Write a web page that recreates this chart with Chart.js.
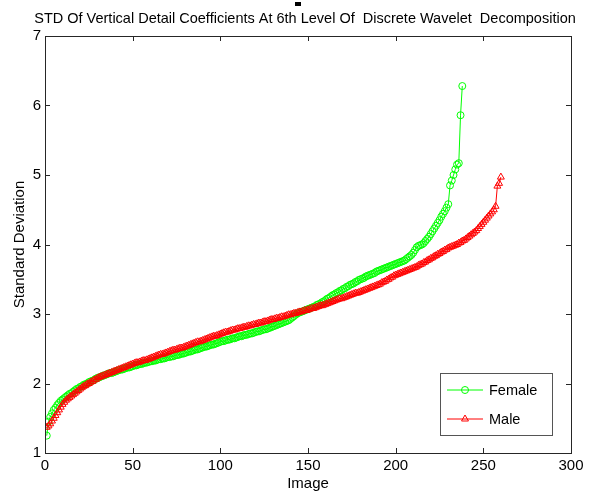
<!DOCTYPE html>
<html>
<head>
<meta charset="utf-8">
<script src="https://cdn.jsdelivr.net/npm/chart.js@4/dist/chart.umd.min.js"></script>
<style>
  html, body { margin: 0; padding: 0; background: #fff; }
  #chart { display: block; }
</style>
</head>
<body>
<canvas id="chart" width="590" height="495"></canvas>
<script>
// sorted STD values per image, one array per group
const femaleStd = [
  1.25, 1.45, 1.52, 1.57, 1.62, 1.65, 1.69, 1.72, 1.75, 1.77,
  1.79, 1.81, 1.83, 1.85, 1.86, 1.88, 1.90, 1.92, 1.93, 1.95,
  1.96, 1.98, 1.99, 2.00, 2.02, 2.03, 2.04, 2.05, 2.07, 2.08,
  2.09, 2.10, 2.11, 2.12, 2.13, 2.14, 2.15, 2.15, 2.16, 2.17,
  2.18, 2.19, 2.20, 2.20, 2.21, 2.22, 2.23, 2.23, 2.24, 2.25,
  2.26, 2.26, 2.27, 2.28, 2.28, 2.29, 2.30, 2.30, 2.31, 2.32,
  2.32, 2.33, 2.33, 2.34, 2.35, 2.35, 2.36, 2.36, 2.37, 2.38,
  2.38, 2.39, 2.39, 2.40, 2.41, 2.41, 2.42, 2.43, 2.43, 2.44,
  2.45, 2.46, 2.46, 2.47, 2.48, 2.49, 2.49, 2.50, 2.51, 2.52,
  2.53, 2.53, 2.54, 2.55, 2.56, 2.56, 2.57, 2.58, 2.59, 2.60,
  2.61, 2.61, 2.62, 2.63, 2.63, 2.64, 2.65, 2.65, 2.66, 2.67,
  2.68, 2.68, 2.69, 2.70, 2.70, 2.71, 2.72, 2.72, 2.73, 2.74,
  2.75, 2.75, 2.76, 2.77, 2.78, 2.78, 2.79, 2.80, 2.81, 2.82,
  2.83, 2.84, 2.85, 2.86, 2.87, 2.88, 2.89, 2.90, 2.91, 2.93,
  2.95, 2.97, 2.99, 3.01, 3.02, 3.03, 3.04, 3.05, 3.06, 3.07,
  3.08, 3.09, 3.10, 3.11, 3.13, 3.14, 3.15, 3.17, 3.18, 3.20,
  3.22, 3.23, 3.25, 3.27, 3.28, 3.30, 3.31, 3.33, 3.34, 3.36,
  3.37, 3.39, 3.40, 3.42, 3.43, 3.44, 3.46, 3.47, 3.49, 3.50,
  3.51, 3.52, 3.54, 3.55, 3.56, 3.57, 3.58, 3.59, 3.61, 3.62,
  3.63, 3.64, 3.65, 3.66, 3.67, 3.68, 3.69, 3.70, 3.71, 3.72,
  3.73, 3.74, 3.75, 3.76, 3.77, 3.79, 3.81, 3.83, 3.85, 3.88,
  3.92, 3.96, 3.98, 3.99, 4.00, 4.02, 4.05, 4.08, 4.11, 4.15,
  4.19, 4.23, 4.27, 4.31, 4.35, 4.40, 4.44, 4.48, 4.53, 4.58,
  4.85, 4.92, 5.00, 5.08, 5.15, 5.17, 5.86, 6.28
];

const maleStd = [
  1.37, 1.39, 1.42, 1.46, 1.50, 1.54, 1.58, 1.62, 1.66, 1.70,
  1.73, 1.76, 1.78, 1.80, 1.82, 1.84, 1.86, 1.88, 1.90, 1.92,
  1.94, 1.96, 1.97, 1.99, 2.00, 2.02, 2.03, 2.05, 2.06, 2.08,
  2.09, 2.10, 2.11, 2.12, 2.13, 2.14, 2.15, 2.16, 2.17, 2.18,
  2.19, 2.20, 2.21, 2.22, 2.23, 2.24, 2.25, 2.26, 2.27, 2.28,
  2.29, 2.30, 2.30, 2.31, 2.32, 2.33, 2.33, 2.34, 2.35, 2.36,
  2.37, 2.38, 2.39, 2.40, 2.41, 2.42, 2.42, 2.43, 2.44, 2.45,
  2.46, 2.47, 2.48, 2.48, 2.49, 2.50, 2.51, 2.51, 2.52, 2.53,
  2.54, 2.55, 2.56, 2.57, 2.58, 2.59, 2.60, 2.60, 2.61, 2.62,
  2.63, 2.64, 2.65, 2.66, 2.67, 2.68, 2.68, 2.69, 2.70, 2.71,
  2.72, 2.73, 2.74, 2.74, 2.75, 2.76, 2.77, 2.77, 2.78, 2.79,
  2.79, 2.80, 2.81, 2.81, 2.82, 2.83, 2.83, 2.84, 2.85, 2.85,
  2.86, 2.87, 2.87, 2.88, 2.89, 2.89, 2.90, 2.91, 2.92, 2.92,
  2.93, 2.94, 2.94, 2.95, 2.96, 2.96, 2.97, 2.98, 2.99, 2.99,
  3.00, 3.01, 3.01, 3.02, 3.03, 3.03, 3.04, 3.05, 3.05, 3.06,
  3.07, 3.08, 3.08, 3.09, 3.10, 3.11, 3.12, 3.12, 3.13, 3.14,
  3.15, 3.16, 3.17, 3.18, 3.19, 3.20, 3.21, 3.22, 3.22, 3.23,
  3.24, 3.25, 3.26, 3.27, 3.28, 3.29, 3.30, 3.30, 3.31, 3.32,
  3.33, 3.34, 3.35, 3.36, 3.37, 3.38, 3.39, 3.40, 3.41, 3.42,
  3.43, 3.45, 3.46, 3.47, 3.49, 3.50, 3.52, 3.53, 3.55, 3.56,
  3.57, 3.58, 3.59, 3.60, 3.61, 3.62, 3.63, 3.64, 3.65, 3.66,
  3.67, 3.68, 3.70, 3.71, 3.72, 3.74, 3.75, 3.77, 3.78, 3.80,
  3.81, 3.83, 3.84, 3.86, 3.87, 3.89, 3.90, 3.92, 3.93, 3.95,
  3.96, 3.97, 3.98, 3.99, 4.00, 4.02, 4.03, 4.05, 4.06, 4.08,
  4.10, 4.12, 4.14, 4.16, 4.18, 4.20, 4.23, 4.26, 4.29, 4.32,
  4.35, 4.38, 4.41, 4.44, 4.47, 4.50, 4.55, 4.84, 4.88, 4.97
];

const seriesNames = ['Female', 'Male'];
const xTicks = [0, 50, 100, 150, 200, 250, 300];
const yTicks = [1, 2, 3, 4, 5, 6, 7];
const chartTitle = 'STD Of Vertical Detail Coefficients At 6th Level Of  Discrete Wavelet  Decomposition';

const FONT = "'Liberation Sans', Arial, sans-serif";
const AXIS = '#262626';

function toPoints(values) {
  return values.map((v, i) => ({ x: i + 1, y: v }));
}

// axes box with inward ticks on all four sides, plus the title above it
const boxPlugin = {
  id: 'box',
  afterDatasetsDraw(chart) {
    const { ctx, chartArea: a, scales: { x, y } } = chart;
    ctx.save();
    ctx.strokeStyle = AXIS;
    ctx.lineWidth = 1;
    ctx.strokeRect(Math.round(a.left) + 0.5, Math.round(a.top) + 0.5,
      Math.round(a.right - a.left), Math.round(a.bottom - a.top));
    const len = 5;
    ctx.beginPath();
    xTicks.forEach(t => {
      const px = Math.round(x.getPixelForValue(t)) + 0.5;
      ctx.moveTo(px, a.bottom); ctx.lineTo(px, a.bottom - len);
      ctx.moveTo(px, a.top); ctx.lineTo(px, a.top + len);
    });
    yTicks.forEach(t => {
      const py = Math.round(y.getPixelForValue(t)) + 0.5;
      ctx.moveTo(a.left, py); ctx.lineTo(a.left + len, py);
      ctx.moveTo(a.right, py); ctx.lineTo(a.right - len, py);
    });
    ctx.stroke();

    ctx.fillStyle = '#000';
    ctx.font = '14.5px ' + FONT;
    ctx.textAlign = 'center';
    ctx.textBaseline = 'middle';
    ctx.fillText(chartTitle, 305, 19);
    // small mark above the title
    ctx.fillRect(295, 2, 6, 4);
    ctx.restore();
  }
};

// legend drawn inside the axes, lower right
const boxLegend = {
  id: 'boxLegend',
  afterDraw(chart) {
    const { ctx } = chart;
    const bx = 440.5, by = 373.5, bw = 112, bh = 62;
    ctx.save();
    ctx.fillStyle = '#fff';
    ctx.fillRect(bx, by, bw, bh);
    ctx.strokeStyle = '#555';
    ctx.lineWidth = 1;
    ctx.strokeRect(bx, by, bw, bh);
    chart.data.datasets.forEach((ds, i) => {
      const ly = 390 + i * 29;
      ctx.strokeStyle = ds.borderColor;
      ctx.beginPath();
      ctx.moveTo(447, ly); ctx.lineTo(483, ly);
      ctx.stroke();
      ctx.fillStyle = 'rgba(0,0,0,0)';
      Chart.helpers.drawPoint(ctx, {
        pointStyle: ds.pointStyle, radius: ds.pointRadius, borderWidth: 1
      }, 465, ly);
      ctx.fillStyle = '#000';
      ctx.font = '14.5px ' + FONT;
      ctx.textBaseline = 'middle';
      ctx.fillText(ds.label, 489, ly + 1);
    });
    ctx.restore();
  }
};

new Chart(document.getElementById('chart'), {
  type: 'line',
  data: {
    datasets: [
      {
        label: seriesNames[0],
        data: toPoints(femaleStd),
        borderColor: '#00ff00',
        backgroundColor: '#00ff00',
        borderWidth: 1,
        pointStyle: 'circle',
        pointRadius: 3.5,
        pointBorderWidth: 1,
        pointBackgroundColor: 'rgba(0,0,0,0)',
        pointBorderColor: '#00ff00',
        tension: 0,
        order: 1
      },
      {
        label: seriesNames[1],
        data: toPoints(maleStd),
        borderColor: '#ff0000',
        backgroundColor: '#ff0000',
        borderWidth: 1,
        pointStyle: 'triangle',
        pointRadius: 4,
        pointBorderWidth: 1,
        pointBackgroundColor: 'rgba(0,0,0,0)',
        pointBorderColor: '#ff0000',
        tension: 0,
        order: 0
      }
    ]
  },
  options: {
    responsive: false,
    animation: false,
    events: [],
    layout: { padding: { left: 0, right: 19, top: 36, bottom: 0 } },
    plugins: {
      legend: { display: false },
      tooltip: { enabled: false },
      title: { display: false }
    },
    scales: {
      x: {
        type: 'linear',
        min: 0,
        max: 300,
        afterBuildTicks: s => { s.ticks = xTicks.map(v => ({ value: v })); },
        afterFit: s => { s.height = 42; },
        grid: { display: false, drawTicks: false },
        border: { display: false },
        ticks: { color: '#000', padding: 4, maxRotation: 0, font: { family: FONT, size: 15 } },
        title: {
          display: true, text: 'Image', color: '#000',
          font: { family: FONT, size: 15 }, padding: { top: 0, bottom: 2 }
        }
      },
      y: {
        type: 'linear',
        min: 1,
        max: 7,
        afterBuildTicks: s => { s.ticks = yTicks.map(v => ({ value: v })); },
        afterFit: s => { s.width = 45; },
        grid: { display: false, drawTicks: false },
        border: { display: false },
        ticks: { color: '#000', padding: 4, font: { family: FONT, size: 15 } },
        title: {
          display: true, text: 'Standard Deviation', color: '#000',
          font: { family: FONT, size: 15 }, padding: { top: 11, bottom: 0 }
        }
      }
    }
  },
  plugins: [boxPlugin, boxLegend]
});
</script>
</body>
</html>
